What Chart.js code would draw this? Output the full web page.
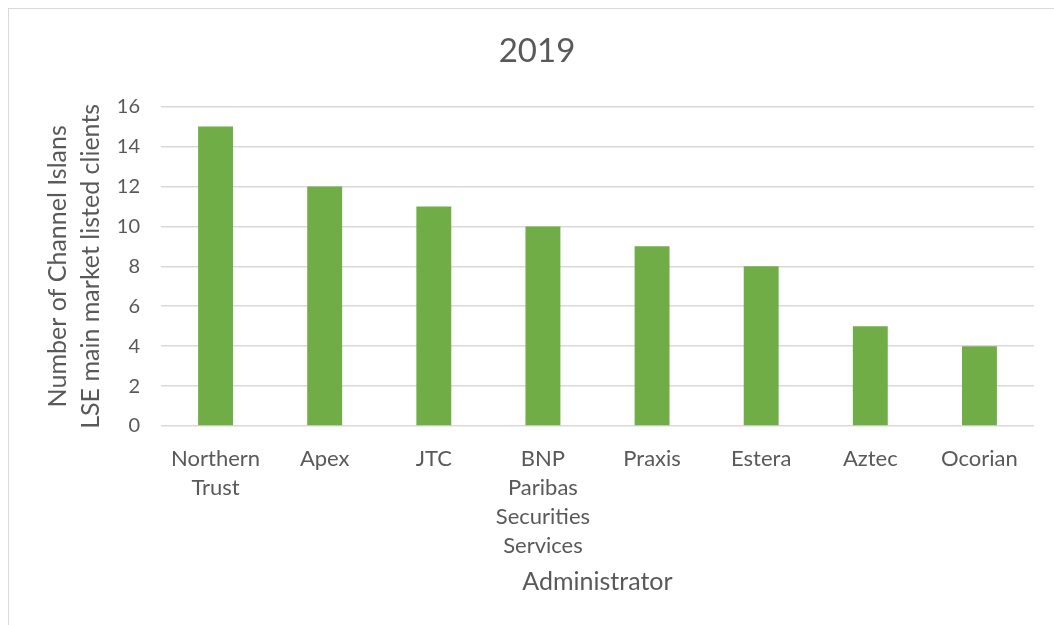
<!DOCTYPE html>
<html><head><meta charset="utf-8">
<script src="https://cdn.jsdelivr.net/npm/chart.js@4.4.1/dist/chart.umd.min.js"></script>
<style>
html,body{margin:0;padding:0;background:#fff;width:1054px;height:625px;overflow:hidden}
#frame{position:absolute;left:8px;top:8px;width:1100px;height:700px;border:1px solid #d9d9d9;box-sizing:border-box}
#wrap{position:absolute;left:0;top:0;width:1054px;height:625px}
</style></head>
<body>
<div id="frame"></div>
<div id="wrap"><canvas id="c" width="1054" height="625"></canvas></div>
<script>
const titleText = "2019";
const categories = [["Northern", "Trust"], "Apex", "JTC", ["BNP", "Paribas", "Securities", "Services"], "Praxis", "Estera", "Aztec", "Ocorian"];
const values = [15, 12, 11, 10, 9, 8, 5, 4];
const yMin = 0, yMax = 16, yStep = 2;
const xAxisTitle = "Administrator";
const yAxisTitle = ["Number of Channel Islans", "LSE main market listed clients"];

const FONT = "Lato, 'Open Sans', sans-serif";
const TXT = "#595959";

new Chart(document.getElementById('c'), {
  type: 'bar',
  data: {
    labels: categories,
    datasets: [{
      data: values,
      backgroundColor: '#70ad47',
      borderWidth: 0,
      barPercentage: 0.32,
      categoryPercentage: 1
    }]
  },
  options: {
    responsive: false,
    animation: false,
    layout: { padding: { left: 40, right: 20, top: 0, bottom: 0 } },
    plugins: {
      legend: { display: false },
      tooltip: { enabled: false },
      title: {
        display: true, text: titleText, color: TXT,
        font: { family: FONT, size: 33, weight: 'normal', lineHeight: 1.2 },
        padding: { top: 32, bottom: 35 }
      }
    },
    scales: {
      x: {
        grid: { display: false, drawTicks: false },
        border: { display: false },
        ticks: { color: TXT, font: { family: FONT, size: 22, lineHeight: 1.32 }, padding: 18, maxRotation: 0, autoSkip: false },
        title: { display: true, text: xAxisTitle, color: TXT, font: { family: FONT, size: 25, lineHeight: 1.2 }, padding: { top: 0, bottom: 28 } },
        afterFit: (s) => { s.height = 199; }
      },
      y: {
        min: yMin, max: yMax,
        grid: { color: '#d9d9d9', lineWidth: 1.5, drawTicks: false },
        border: { display: false },
        ticks: { stepSize: yStep, color: TXT, font: { family: FONT, size: 20 }, padding: 21 },
        title: { display: true, text: yAxisTitle, color: TXT, font: { family: FONT, size: 25, lineHeight: 1.3 }, padding: { top: 2, bottom: 0 } },
        afterFit: (s) => { s.width = 121; }
      }
    }
  }
});
</script>
</body></html>
